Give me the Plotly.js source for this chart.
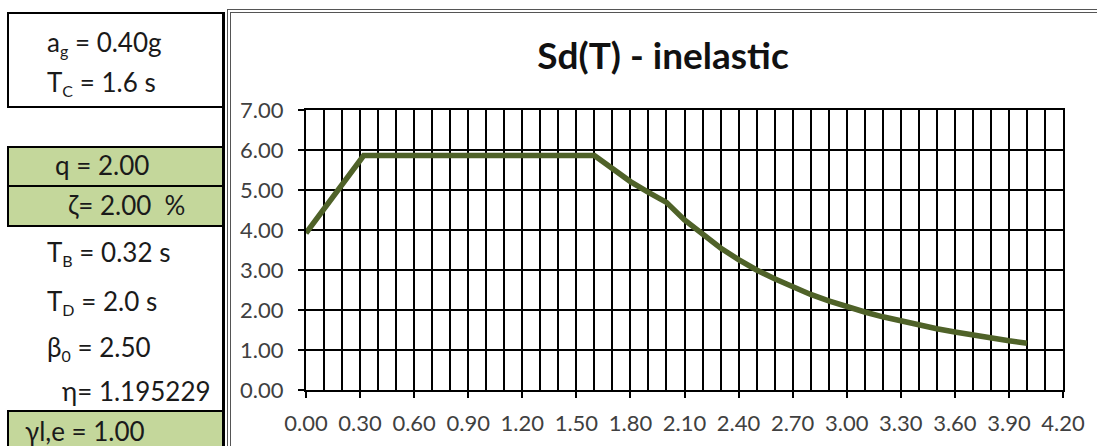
<!DOCTYPE html>
<html>
<head>
<meta charset="utf-8">
<script src="https://cdn.plot.ly/plotly-3.0.1.min.js"></script>
<style>
  html, body { margin:0; padding:0; background:#fff; }
  body { width:1097px; height:446px; position:relative; overflow:hidden; font-family: Lato, "Open Sans", sans-serif; color:#1a1a1a; }
  .box { position:absolute; box-sizing:border-box; border:2px solid #000; }
  .green { background:#C4D79B; }
  .txt { position:absolute; font-size:26px; line-height:30px; white-space:nowrap; }
  .txt sub { font-size:16px; vertical-align:-5px; line-height:0; }
  #frame { position:absolute; left:227px; top:9px; width:900px; height:460px; box-sizing:border-box;
           border:4px double #555; }
  #vline { position:absolute; left:222px; top:12px; width:3px; height:440px; background:#000; }
  #plot { position:absolute; left:0; top:0; width:1097px; height:446px; z-index:2; }
</style>
</head>
<body>
<div id="frame"></div>
<div class="box" style="left:7px; top:12px; width:217px; height:96px;"></div>
<div class="box green" style="left:7px; top:146px; width:217px; height:41px;"></div>
<div class="box green" style="left:7px; top:185px; width:217px; height:42px;"></div>
<div class="box green" style="left:7px; top:410px; width:217px; height:50px;"></div>
<div id="vline"></div>

<div class="txt" style="left:47px; top:27px;">a<sub>g</sub> = 0.40g</div>
<div class="txt" style="left:47px; top:67px;">T<sub>C</sub> = 1.6 s</div>
<div class="txt" style="left:55px; top:150px;">q = 2.00</div>
<div class="txt" style="left:68px; top:190px;">ζ= 2.00 &nbsp;%</div>
<div class="txt" style="left:47px; top:237px;">T<sub>B</sub> = 0.32 s</div>
<div class="txt" style="left:47px; top:286px;">T<sub>D</sub> = 2.0 s</div>
<div class="txt" style="left:47px; top:332px;">β<sub>0</sub> = 2.50</div>
<div class="txt" style="left:62px; top:376px;">η= 1.195229</div>
<div class="txt" style="left:25px; top:416px;">γl,e = 1.00</div>

<div id="plot"></div>
<script>
// Period T (s)
var periods = [0, 0.32, 1.6, 1.7, 1.8, 1.9, 2.0, 2.1, 2.2, 2.3, 2.4, 2.5, 2.6, 2.7, 2.8, 2.9, 3.0,
               3.1, 3.2, 3.3, 3.4, 3.5, 3.6, 3.7, 3.8, 3.9, 4.0];
// Sd(T) inelastic values
var sdValues = [3.92, 5.86, 5.86, 5.52, 5.21, 4.94, 4.69, 4.25, 3.88, 3.55, 3.26, 3.00, 2.78, 2.57,
                2.39, 2.23, 2.08, 1.95, 1.83, 1.72, 1.62, 1.53, 1.45, 1.37, 1.30, 1.23, 1.17];
var chartTitle = "Sd(T) - inelastic";

var trace = {
  x: periods, y: sdValues, type: 'scatter', mode: 'lines',
  line: { color: '#4F6228', width: 5.5 }, hoverinfo: 'skip'
};

var tickFont = { family: 'Lato, sans-serif', size: 22, color: '#404040' };

var layout = {
  width: 1097, height: 446,
  margin: { l: 306, r: 34, t: 110, b: 56, pad: 0 },
  paper_bgcolor: 'rgba(0,0,0,0)', plot_bgcolor: 'rgba(0,0,0,0)',
  showlegend: false,
  title: { text: '<b>' + chartTitle + '</b>', xref: 'container', yref: 'container',
           x: 663/1097, xanchor: 'center', y: 1 - 56/446, yanchor: 'middle',
           font: { family: 'Lato, sans-serif', size: 37, color: '#111' } },
  xaxis: {
    range: [0, 4.2], tick0: 0, dtick: 0.3, tickformat: '.2f',
    showgrid: true, gridcolor: '#000', gridwidth: 2,
    minor: { tick0: 0, dtick: 0.1, showgrid: true, gridcolor: '#000', gridwidth: 2, ticks: '' },
    ticks: 'outside', ticklen: 6, tickwidth: 2, tickcolor: '#000',
    showline: true, linecolor: '#000', linewidth: 2, mirror: true, zeroline: false,
    tickfont: tickFont, ticklabelstandoff: 7, fixedrange: true
  },
  yaxis: {
    range: [0, 7], tick0: 0, dtick: 1, tickformat: '.2f',
    showgrid: true, gridcolor: '#000', gridwidth: 2,
    ticks: 'outside', ticklen: 6, tickwidth: 2, tickcolor: '#000',
    showline: true, linecolor: '#000', linewidth: 2, mirror: true, zeroline: false,
    tickfont: tickFont, ticklabelstandoff: 10, fixedrange: true
  }
};

Plotly.newPlot('plot', [trace], layout, { staticPlot: true, displayModeBar: false });
</script>
</body>
</html>
